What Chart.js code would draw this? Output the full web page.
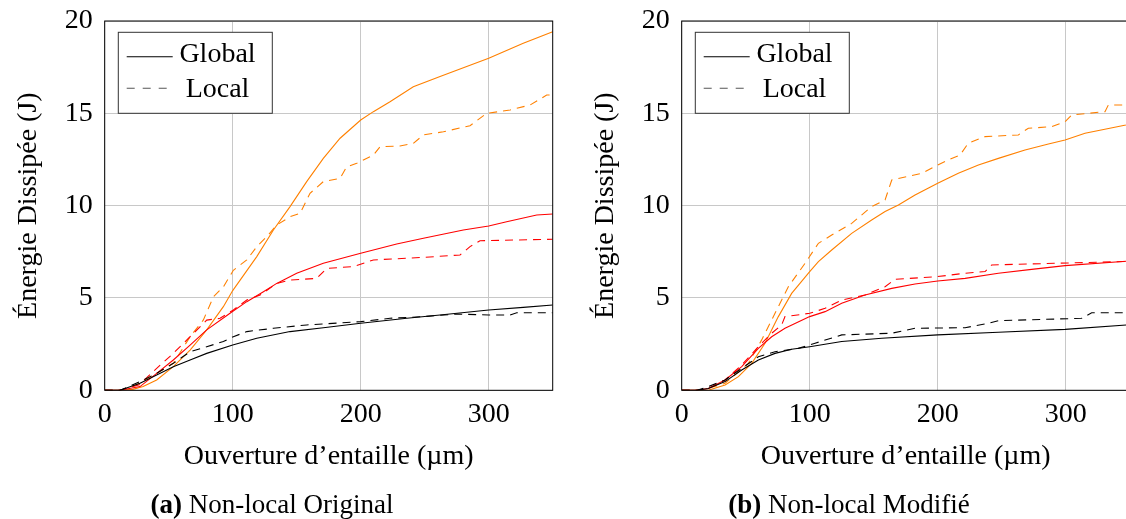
<!DOCTYPE html>
<html>
<head>
<meta charset="utf-8">
<script src="https://cdn.jsdelivr.net/npm/chart.js@4.4.1/dist/chart.umd.min.js"></script>
<style>
  html, body { margin: 0; padding: 0; background: #fff; overflow: hidden; width: 1126px; height: 519px; }
  canvas { position: absolute; top: 0; }
  #chartA { left: 0; }
  #chartB { left: 577px; }
  .caption { position: absolute; top: 489px; width: 400px; line-height: 30px; text-align: center;
    font-family: 'Liberation Serif', 'Times New Roman', serif; font-size: 27px; color: #000; }
</style>
</head>
<body>
<canvas id="chartA" width="565" height="519"></canvas>
<canvas id="chartB" width="565" height="519"></canvas>
<div class="caption" style="left:72px"><b>(a)</b> Non-local Original</div>
<div class="caption" style="left:649px"><b>(b)</b> Non-local Modifié</div>
<script>
const xTicks = [0, 100, 200, 300];
const yTicks = [0, 5, 10, 15, 20];
const legendLabels = ['Global', 'Local'];
const xTitle = 'Ouverture d\u2019entaille (\u00b5m)';
const yTitle = '\u00c9nergie Dissip\u00e9e (J)';

// (a) Non-local Original
const aOrangeGlobalX = [0, 12, 22, 30, 40.6, 53.6, 66.7, 79.7, 92.7, 100, 118.8, 131.8, 144.8, 157.8, 170.8, 183.9, 200, 209.9, 222.9, 241.1, 262, 282.8, 300, 327, 350];
const aOrangeGlobalY = [0, 0, 0.05, 0.2, 0.56, 1.28, 2.18, 3.27, 4.53, 5.4, 7.24, 8.68, 9.95, 11.3, 12.56, 13.65, 14.64, 15.09, 15.63, 16.44, 16.99, 17.53, 17.98, 18.79, 19.42];
const aOrangeLocalX = [0, 12, 25, 40.6, 53.6, 66.7, 77, 85, 92.7, 100.5, 111, 118.8, 126.6, 134.4, 144.8, 152.6, 160.4, 170.8, 183.9, 189, 196.9, 209.9, 215.1, 230.7, 241.1, 249, 264.6, 285.4, 298.4, 316.7, 332.3, 345.3, 350];
const aOrangeLocalY = [0, 0, 0.3, 0.92, 1.46, 2.9, 3.8, 5.07, 5.6, 6.5, 7.06, 7.78, 8.32, 8.95, 9.4, 9.58, 10.67, 11.3, 11.48, 12.1, 12.29, 12.74, 13.19, 13.23, 13.37, 13.83, 14.0, 14.33, 15.0, 15.18, 15.45, 15.99, 16.0];
const aRedGlobalX = [0, 12, 27.6, 40.6, 53.6, 66.7, 79.7, 97.9, 111, 124, 134.4, 150, 170.8, 200, 228.1, 249, 280.2, 300, 314, 337.5, 350];
const aRedGlobalY = [0, 0, 0.2, 0.92, 1.64, 2.45, 3.27, 4.17, 4.8, 5.34, 5.79, 6.34, 6.88, 7.42, 7.92, 8.23, 8.68, 8.9, 9.13, 9.49, 9.55];
const aRedLocalX = [0, 12, 27, 40.6, 53.6, 66.7, 79.7, 90.1, 100.5, 111, 121.4, 134.4, 144.8, 165.6, 173.4, 194.3, 209.9, 249, 277.6, 285.4, 293.2, 350];
const aRedLocalY = [0, 0, 0.3, 1.19, 2.0, 2.9, 3.8, 3.9, 4.35, 4.89, 5.16, 5.79, 5.97, 6.06, 6.6, 6.7, 7.06, 7.2, 7.33, 7.78, 8.1, 8.18];
const aBlackGlobalX = [0, 12, 27.6, 40.6, 53.6, 66.7, 79.7, 100, 118.8, 144.8, 170.8, 200, 236, 262, 300, 327, 350];
const aBlackGlobalY = [0, 0, 0.38, 0.83, 1.28, 1.64, 2.0, 2.45, 2.82, 3.18, 3.39, 3.63, 3.9, 4.08, 4.35, 4.49, 4.62];
const aBlackLocalX = [0, 12, 27.6, 40.6, 53.6, 66.7, 79.7, 92.7, 100.5, 111, 131.8, 157.8, 200, 222.9, 249, 275, 300, 316.7, 321.9, 350];
const aBlackLocalY = [0, 0, 0.47, 0.92, 1.46, 2.09, 2.36, 2.64, 2.9, 3.18, 3.36, 3.54, 3.72, 3.9, 3.99, 4.13, 4.08, 4.08, 4.2, 4.2];

// (b) Non-local Modifié
const bOrangeGlobalX = [0, 15, 20.8, 33.9, 44.3, 54.7, 65.1, 75.5, 85.9, 100, 106.8, 117.2, 132.8, 148.4, 158.9, 169.3, 182.3, 200, 216.1, 231.8, 247.4, 268.2, 286.5, 299.5, 315.1, 347, 350];
const bOrangeGlobalY = [0, 0, 0, 0.29, 0.74, 1.46, 2.55, 3.99, 5.25, 6.43, 6.97, 7.6, 8.5, 9.22, 9.68, 10.04, 10.58, 11.21, 11.75, 12.2, 12.56, 13.01, 13.34, 13.56, 13.92, 14.37, 14.42];
const bOrangeLocalX = [0, 15, 33.9, 52.1, 62.5, 72.9, 83.3, 96.4, 106.8, 117.2, 132.8, 148.4, 158.9, 164.1, 187.5, 200, 210.9, 217.4, 223.9, 237, 263, 270.8, 289, 299.5, 304.7, 330.7, 333.3, 350];
const bOrangeLocalY = [0, 0, 0.38, 1.46, 2.73, 4.17, 5.61, 6.88, 7.96, 8.41, 9.04, 9.95, 10.31, 11.39, 11.75, 12.2, 12.56, 12.74, 13.38, 13.74, 13.83, 14.19, 14.28, 14.55, 14.91, 15.09, 15.45, 15.45];
const bRedGlobalX = [0, 12, 20.8, 33.9, 46.9, 59.9, 70.3, 80.7, 100, 112, 125, 143.2, 164.1, 182.3, 200, 221.4, 247.4, 273.4, 299.5, 350];
const bRedGlobalY = [0, 0, 0.1, 0.56, 1.28, 2.27, 2.9, 3.36, 3.99, 4.26, 4.71, 5.16, 5.52, 5.76, 5.92, 6.06, 6.34, 6.55, 6.75, 7.0];
const bRedLocalX = [0, 12, 20.8, 33.9, 46.9, 59.9, 70.3, 78.1, 80.7, 100, 112, 125, 143.2, 158.9, 166.7, 200, 221.4, 237, 242.2, 350];
const bRedLocalY = [0, 0, 0.1, 0.56, 1.37, 2.36, 3.09, 3.54, 3.99, 4.17, 4.44, 4.89, 5.16, 5.61, 6.01, 6.16, 6.34, 6.43, 6.79, 6.98];
const bBlackGlobalX = [0, 12, 20.8, 33.9, 46.9, 59.9, 72.9, 85.9, 100, 125, 156.3, 200, 247.4, 299.5, 350];
const bBlackGlobalY = [0, 0, 0.1, 0.47, 1.1, 1.64, 2.0, 2.22, 2.36, 2.64, 2.82, 3.0, 3.14, 3.3, 3.55];
const bBlackLocalX = [0, 12, 20.8, 33.9, 46.9, 59.9, 72.9, 91.1, 104.2, 125, 164.1, 182.3, 221.4, 239.6, 247.4, 312.5, 320.3, 350];
const bBlackLocalY = [0, 0, 0.2, 0.56, 1.19, 1.82, 2.09, 2.27, 2.55, 3.0, 3.09, 3.36, 3.39, 3.63, 3.77, 3.9, 4.2, 4.2];

const ORANGE = '#ff8000';
const RED = '#ff0000';
const BLACK = '#000000';
const DASH = [8, 6];
const FONT = "'Liberation Serif', 'Times New Roman', serif";

const toPoints = (xs, ys) => xs.map((x, i) => ({ x: x, y: ys[i] }));

const line = (xs, ys, color, dashed) => ({
  data: toPoints(xs, ys),
  borderColor: color,
  borderWidth: 1.1,
  borderDash: dashed ? DASH : [],
  pointRadius: 0,
  tension: 0,
  fill: false,
});

// black frame around the plot area plus the boxed legend in the upper left
const framePlugin = {
  id: 'frame',
  afterDraw(chart) {
    const { ctx, chartArea: a } = chart;
    ctx.save();
    ctx.strokeStyle = '#000';
    ctx.lineWidth = 1;
    ctx.strokeRect(a.left, a.top, a.right - a.left, a.bottom - a.top);

    const bx = a.left + 13.6, by = a.top + 11.3, bw = 154, bh = 81;
    ctx.fillStyle = '#fff';
    ctx.fillRect(bx, by, bw, bh);
    ctx.strokeStyle = '#333';
    ctx.strokeRect(bx, by, bw, bh);

    ctx.strokeStyle = '#000';
    ctx.lineWidth = 1.1;
    ctx.beginPath();
    ctx.moveTo(bx + 8.4, by + 24.4);
    ctx.lineTo(bx + 54.4, by + 24.4);
    ctx.stroke();
    ctx.setLineDash([8, 8]);
    ctx.strokeStyle = '#555';
    ctx.beginPath();
    ctx.moveTo(bx + 8.4, by + 56);
    ctx.lineTo(bx + 54.4, by + 56);
    ctx.stroke();
    ctx.setLineDash([]);

    ctx.fillStyle = '#000';
    ctx.font = '28px ' + FONT;
    ctx.textAlign = 'center';
    ctx.textBaseline = 'alphabetic';
    ctx.fillText(legendLabels[0], bx + 99.2, by + 30);
    ctx.fillText(legendLabels[1], bx + 99.2, by + 65);
    ctx.restore();
  },
};

function makeChart(id, datasets) {
  return new Chart(document.getElementById(id), {
    type: 'line',
    data: { datasets: datasets },
    plugins: [framePlugin],
    options: {
      responsive: false,
      animation: false,
      devicePixelRatio: 1,
      layout: { padding: { top: 21, right: 12.3, bottom: 0, left: 0 } },
      plugins: { legend: { display: false }, tooltip: { enabled: false } },
      scales: {
        x: {
          type: 'linear',
          min: 0,
          max: 350,
          afterBuildTicks: (s) => { s.ticks = xTicks.map((v) => ({ value: v })); },
          afterFit: (s) => { s.height = 128.7; s.paddingLeft = 0; s.paddingRight = 0; },
          border: { display: false },
          grid: { color: '#c8c8c8', lineWidth: 1, drawTicks: false },
          ticks: { color: '#000', padding: 8, maxRotation: 0, font: { family: FONT, size: 28 } },
          title: { display: true, text: xTitle, color: '#000', padding: { top: 0, bottom: 46 }, font: { family: FONT, size: 28 } },
        },
        y: {
          type: 'linear',
          min: 0,
          max: 20,
          afterBuildTicks: (s) => { s.ticks = yTicks.map((v) => ({ value: v })); },
          afterFit: (s) => { s.width = 104.7; s.paddingTop = 0; s.paddingBottom = 0; },
          border: { display: false },
          grid: { color: '#c8c8c8', lineWidth: 1, drawTicks: false },
          ticks: { color: '#000', padding: 12, font: { family: FONT, size: 28 } },
          title: { display: true, text: yTitle, color: '#000', padding: { top: 12, bottom: 0 }, font: { family: FONT, size: 28 } },
        },
      },
    },
  });
}

makeChart('chartA', [
  line(aBlackGlobalX, aBlackGlobalY, BLACK, false),
  line(aBlackLocalX, aBlackLocalY, BLACK, true),
  line(aRedGlobalX, aRedGlobalY, RED, false),
  line(aRedLocalX, aRedLocalY, RED, true),
  line(aOrangeGlobalX, aOrangeGlobalY, ORANGE, false),
  line(aOrangeLocalX, aOrangeLocalY, ORANGE, true),
]);

makeChart('chartB', [
  line(bBlackGlobalX, bBlackGlobalY, BLACK, false),
  line(bBlackLocalX, bBlackLocalY, BLACK, true),
  line(bRedGlobalX, bRedGlobalY, RED, false),
  line(bRedLocalX, bRedLocalY, RED, true),
  line(bOrangeGlobalX, bOrangeGlobalY, ORANGE, false),
  line(bOrangeLocalX, bOrangeLocalY, ORANGE, true),
]);
</script>
</body>
</html>
